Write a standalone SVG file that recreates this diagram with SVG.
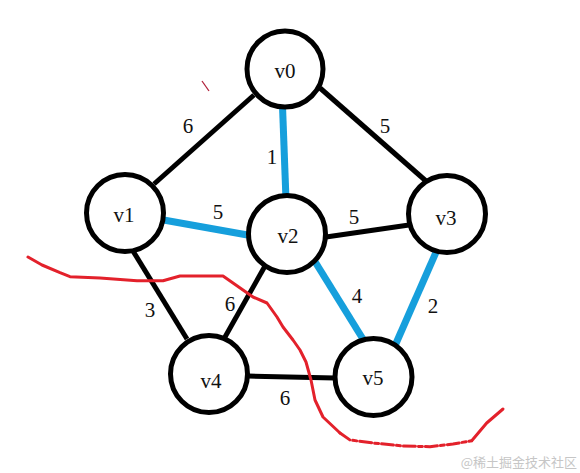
<svg xmlns="http://www.w3.org/2000/svg" width="580" height="473" viewBox="0 0 580 473">
<style>
.node circle{fill:#fff;stroke:#000;stroke-width:5}
.node text,.w{font-family:"Liberation Serif","Times New Roman",serif;font-size:21px;fill:#111;text-anchor:middle;dominant-baseline:central}
.e{stroke:#000;stroke-width:5;stroke-linecap:butt}
.b{stroke:#169fdc;stroke-width:7;stroke-linecap:butt}
.h{fill:#fff;stroke:#169fdc;stroke-width:1.2}
.red{fill:none;stroke:#e3212b;stroke-width:3;stroke-linejoin:round;stroke-linecap:round}
</style>
<rect width="580" height="473" fill="#fff"/>
<g id="connectors">
<line class="e" x1="154" y1="184" x2="254" y2="95"/>
<line class="e" x1="320" y1="88" x2="426" y2="181"/>
<line class="e" x1="326" y1="237" x2="409" y2="225"/>
<line class="e" x1="133" y1="251" x2="187" y2="339"/>
<line class="e" x1="265" y1="266" x2="225" y2="337"/>
<line class="e" x1="248" y1="376" x2="335" y2="378"/>
<line class="b" x1="282.5" y1="106" x2="286" y2="200"/>
<line class="b" x1="158" y1="219" x2="247.5" y2="235"/>
<line class="b" x1="314" y1="260" x2="366" y2="344"/>
<line class="b" x1="437" y1="250" x2="394" y2="348"/>
<rect class="h" x="156" y="216.5" width="4.5" height="4.5"/>
<rect class="h" x="245.5" y="232.5" width="4.5" height="4.5"/>
</g>
<g id="v0" class="node"><circle cx="285" cy="69" r="38"/><text x="285" y="71">v0</text></g>
<g id="v1" class="node"><circle cx="125" cy="213" r="38.5"/><text x="124" y="215">v1</text></g>
<g id="v2" class="node"><circle cx="287" cy="234" r="38.5"/><text x="288" y="236">v2</text></g>
<g id="v3" class="node"><circle cx="447" cy="214" r="38.5"/><text x="446" y="218">v3</text></g>
<g id="v4" class="node"><circle cx="209" cy="374" r="38.5"/><text x="211" y="381">v4</text></g>
<g id="v5" class="node"><circle cx="373.5" cy="377" r="38.5"/><text x="373" y="378">v5</text></g>
<g id="labels">
<text class="w" x="188" y="126">6</text>
<text class="w" x="385" y="126">5</text>
<text class="w" x="272" y="157">1</text>
<text class="w" x="218" y="212">5</text>
<text class="w" x="354" y="217">5</text>
<text class="w" x="150" y="310">3</text>
<text class="w" x="230" y="304">6</text>
<text class="w" x="357" y="296">4</text>
<text class="w" x="433" y="306">2</text>
<text class="w" x="285" y="398">6</text>
</g>
<path class="red" d="M28,257 L42,265 L60,272.7 L70,276.7 L100,278 L137,280.7 L163,280.7 L180,276 L223,276 L233,283 L253,297 L267,303 L277,317 L283,327 L293,340 L300,350 L306,362 L311,380 L315,400 L323,417 L340,433"/>
<path class="red" stroke-dasharray="12 3 4 3" d="M340,433 L350,440 L373,443 L403,446 L430,446.7 L453,444 L471.7,440.7"/>
<path class="red" d="M471.7,440.7 L486.7,423 L503,409"/>
<path d="M202,81 L209,91" stroke="#b0203a" stroke-width="1.3" fill="none"/>
<text x="577" y="467" font-family="'Noto Sans CJK SC',sans-serif" font-size="13" fill="#c6c6c6" text-anchor="end">@稀土掘金技术社区</text>
</svg>
